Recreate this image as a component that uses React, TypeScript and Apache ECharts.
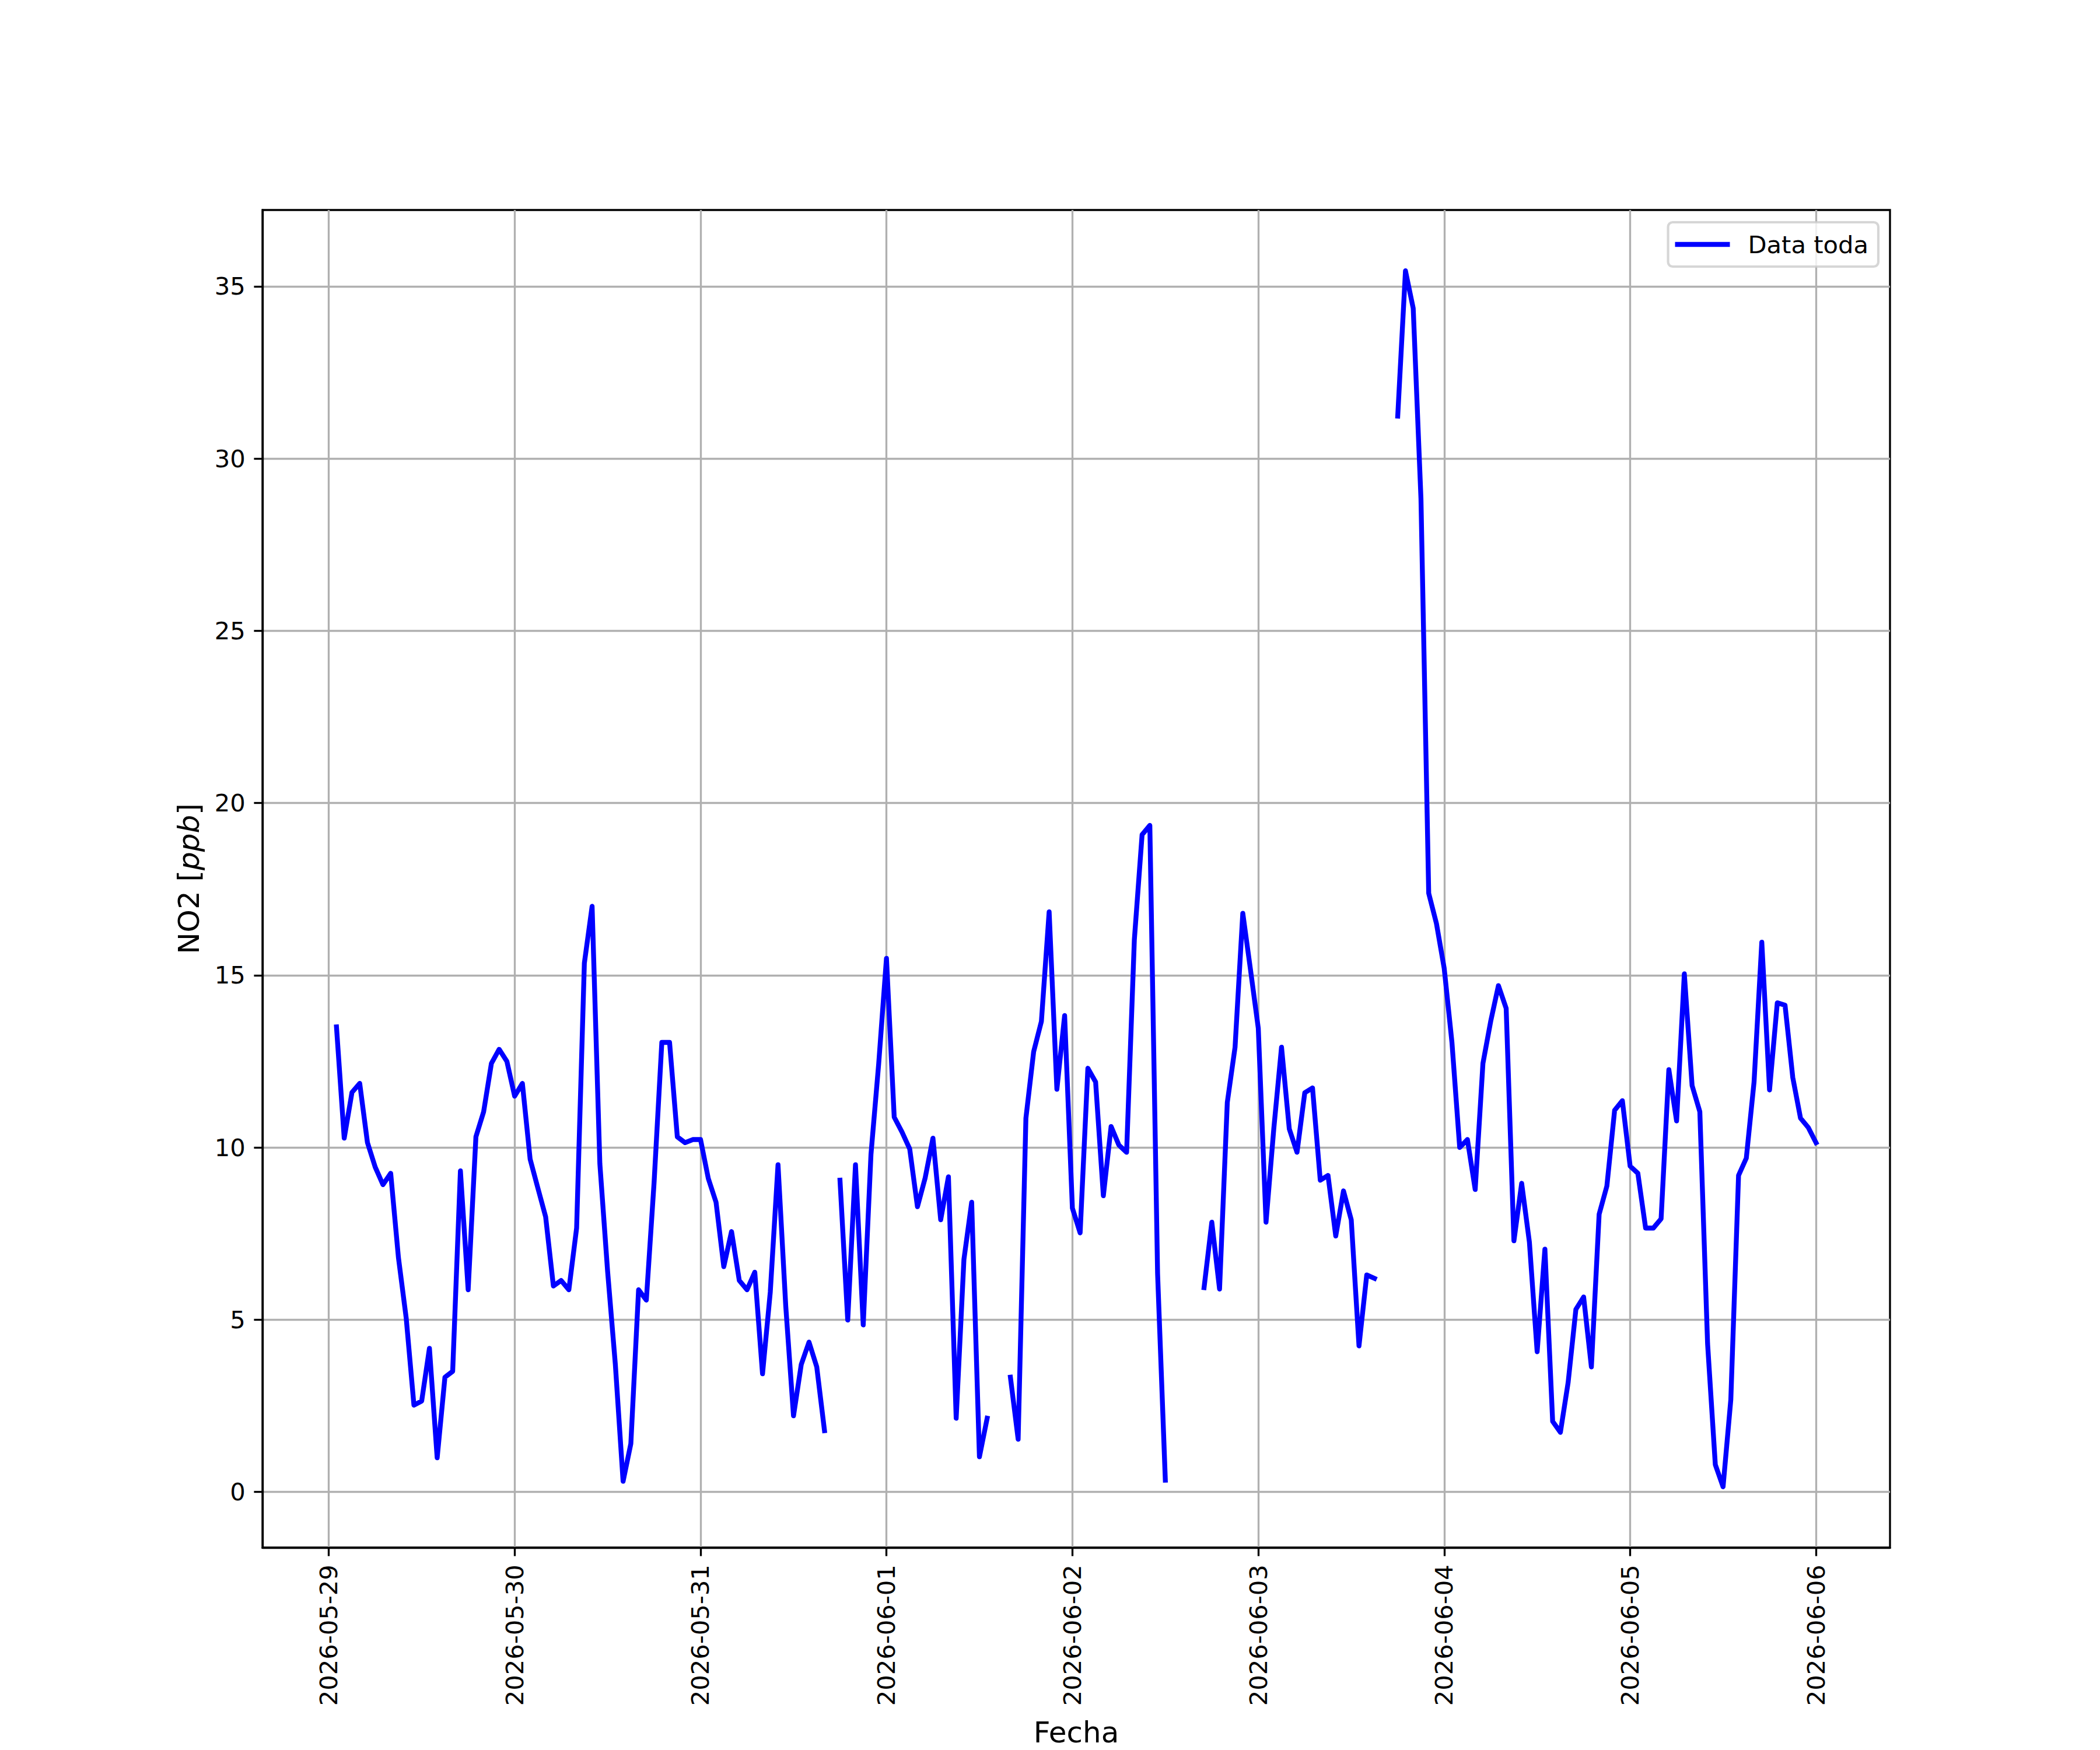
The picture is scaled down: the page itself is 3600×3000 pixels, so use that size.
import React, { useEffect, useRef } from "react";
import * as echarts from "echarts";

// Hourly NO2 samples, first sample at 2026-05-29 01:00, one block per day (h01..h24)
const FIRST_SAMPLE = "2026-05-29T01:00:00Z";
const HOUR_MS = 3600000;

const no2_0529 = [13.5, 10.27, 11.6, 11.86, 10.14, 9.43, 8.92, 9.25, 6.8, 5.05, 2.52, 2.64, 4.17, 0.99, 3.33, 3.5, 9.32, 5.87, 10.31, 11.04, 12.44, 12.85, 12.5, 11.49];
const no2_0530 = [11.86, 9.66, 8.82, 7.99, 5.98, 6.14, 5.87, 7.66, 15.35, 17.0, 9.53, 6.41, 3.7, 0.31, 1.4, 5.87, 5.57, 8.98, 13.05, 13.05, 10.31, 10.14, 10.23, 10.23];
const no2_0531 = [9.1, 8.41, 6.54, 7.56, 6.14, 5.87, 6.38, 3.43, 5.8, 9.5, 5.39, 2.21, 3.7, 4.35, 3.63, 1.78, null, 9.05, 4.99, 9.5, 4.85, 9.8, 12.44, 15.49];
const no2_0601 = [10.88, 10.45, 9.96, 8.28, 9.12, 10.27, 7.9, 9.15, 2.14, 6.75, 8.41, 1.02, 2.14, null, null, 3.33, 1.53, 10.85, 12.78, 13.66, 16.84, 11.69, 13.83, 8.24];
const no2_0602 = [7.52, 12.3, 11.9, 8.6, 10.61, 10.07, 9.86, 16.03, 19.08, 19.35, 6.34, 0.34, null, null, null, null, 5.93, 7.83, 5.89, 11.31, 12.91, 16.8, 15.15, 13.46];
const no2_0603 = [7.83, 10.54, 12.91, 10.54, 9.86, 11.59, 11.73, 9.05, 9.19, 7.43, 8.74, 7.9, 4.24, 6.3, 6.2, null, null, 31.23, 35.45, 34.36, 28.83, 17.38, 16.5, 15.2];
const no2_0604 = [13.05, 10.0, 10.23, 8.78, 12.44, 13.66, 14.7, 14.04, 7.29, 8.96, 7.25, 4.07, 7.05, 2.05, 1.73, 3.18, 5.3, 5.66, 3.63, 8.06, 8.88, 11.08, 11.36, 9.46];
const no2_0605 = [9.25, 7.66, 7.66, 7.93, 12.26, 10.77, 15.04, 11.8, 11.04, 4.31, 0.79, 0.15, 2.68, 9.19, 9.69, 11.9, 15.96, 11.67, 14.2, 14.13, 12.03, 10.85, 10.58, 10.14];

const dayBlocks: (number | null)[][] = [no2_0529, no2_0530, no2_0531, no2_0601, no2_0602, no2_0603, no2_0604, no2_0605];

const xTickLabels = ["2026-05-29", "2026-05-30", "2026-05-31", "2026-06-01", "2026-06-02", "2026-06-03", "2026-06-04", "2026-06-05", "2026-06-06"];
const yTickValues = [0, 5, 10, 15, 20, 25, 30, 35];

const seriesName = "Data toda";
const xName = "Fecha";

const PT = 300 / 72;
const FS = 10 * PT;
const FS_LABEL = 12 * PT;
const FONT = "DejaVu Sans";

export default function App() {
  const ref = useRef<HTMLDivElement>(null);

  useEffect(() => {
    document.body.style.margin = "0";
    if (!ref.current) return;
    const chart = echarts.init(ref.current, null, { renderer: "svg" });

    const start = Date.parse(FIRST_SAMPLE);
    const flat = dayBlocks.flat();
    const data = flat.map((v, i) => [start + i * HOUR_MS, v]);
    const xs = data.map((d) => d[0] as number);
    const ys = flat.filter((v) => v !== null) as number[];
    const x0 = Math.min(...xs), x1 = Math.max(...xs);
    const y0 = Math.min(...ys), y1 = Math.max(...ys);
    const xm = (x1 - x0) * 0.05, ym = (y1 - y0) * 0.05;
    const xTickTs = xTickLabels.map((d) => Date.parse(d + "T00:00:00Z"));

    const axisFont = { fontFamily: FONT, fontSize: FS, color: "#000" };
    const nameFont = { fontFamily: FONT, fontSize: FS_LABEL, color: "#000" };
    const axisLine = { show: true, onZero: false, lineStyle: { color: "#000", width: 0.8 * PT } };

    chart.setOption({
      animation: false,
      backgroundColor: "#fff",
      grid: {
        left: 450,
        right: 360,
        top: 360,
        bottom: 330,
        show: true,
        borderColor: "#000",
        borderWidth: 0.8 * PT,
        backgroundColor: "transparent",
      },
      legend: {
        show: true,
        right: 380,
        top: 381,
        orient: "vertical",
        data: [{ name: seriesName, icon: "rect" }],
        itemWidth: 94,
        itemHeight: 2 * PT,
        padding: [14, 17, 14, 12],
        backgroundColor: "rgba(255,255,255,0.8)",
        borderColor: "rgba(204,204,204,0.8)",
        borderWidth: 1.0 * PT,
        borderRadius: 8,
        textStyle: { ...axisFont, lineHeight: 48, padding: [0, 0, 0, 26] },
      },
      xAxis: {
        type: "value",
        min: x0 - xm,
        max: x1 + xm,
        name: xName,
        nameLocation: "middle",
        nameGap: 292,
        nameTextStyle: { ...nameFont },
        axisLine,
        axisTick: {
          show: true,
          length: 3.5 * PT,
          lineStyle: { color: "#000", width: 0.8 * PT },
          customValues: xTickTs,
        },
        axisLabel: {
          ...axisFont,
          rotate: 90,
          margin: 7 * PT,
          customValues: xTickTs,
          formatter: (v: number) => {
            const i = xTickTs.findIndex((t) => Math.abs(t - v) < 1000);
            return i >= 0 ? xTickLabels[i] : "";
          },
        },
        splitLine: { show: true, lineStyle: { color: "#b0b0b0", width: 0.8 * PT } },
      },
      yAxis: {
        type: "value",
        min: y0 - ym,
        max: y1 + ym,
        name: "NO2 [{i|ppb}]",
        nameLocation: "middle",
        nameRotate: 90,
        nameGap: 101,
        nameTextStyle: {
          ...nameFont,
          rich: { i: { fontFamily: FONT, fontSize: FS_LABEL, fontStyle: "italic", color: "#000" } },
        },
        axisLine,
        axisTick: {
          show: true,
          length: 3.5 * PT,
          lineStyle: { color: "#000", width: 0.8 * PT },
          customValues: yTickValues,
        },
        axisLabel: {
          ...axisFont,
          margin: 7 * PT,
          customValues: yTickValues,
          formatter: (v: number) => String(v),
        },
        splitLine: { show: true, lineStyle: { color: "#b0b0b0", width: 0.8 * PT } },
      },
      series: [
        {
          name: seriesName,
          type: "line",
          data,
          showSymbol: false,
          symbol: "none",
          connectNulls: false,
          color: "#0000ff",
          lineStyle: { color: "#0000ff", width: 2 * PT, cap: "square", join: "round" },
          emphasis: { disabled: true },
        },
      ],
    });

    return () => chart.dispose();
  }, []);

  return <div ref={ref} style={{ width: 3600, height: 3000 }} />;
}
